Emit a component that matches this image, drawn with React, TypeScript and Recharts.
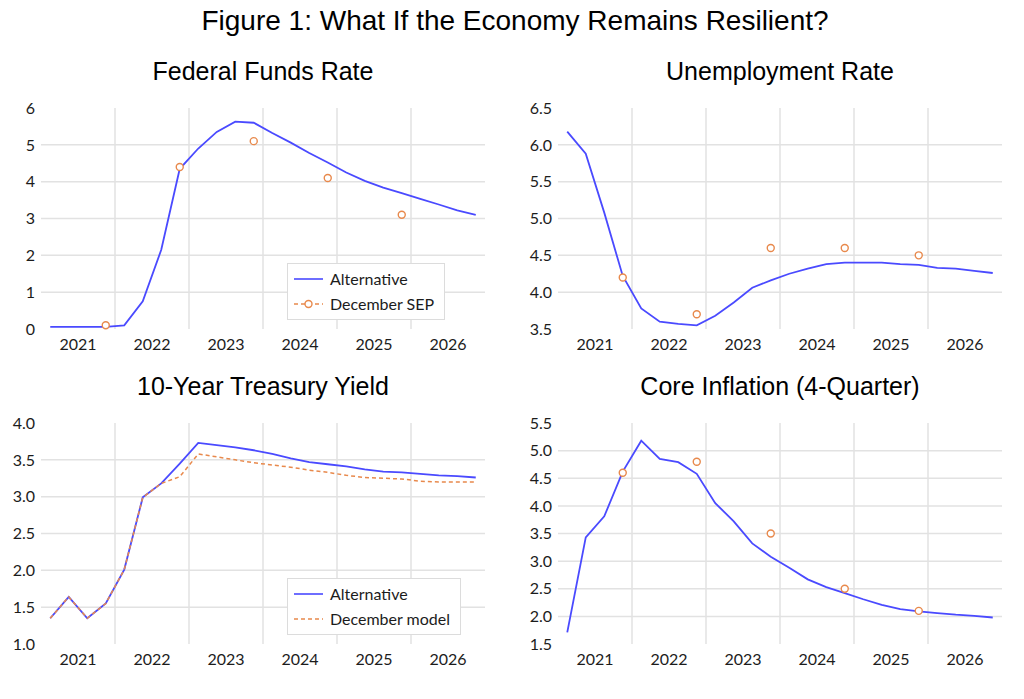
import React from 'react'
import { LineChart, Line, XAxis, YAxis, CartesianGrid, Legend } from 'recharts'

// quarterly data, 2021Q1 .. 2026Q4
const years = ['2021', '2022', '2023', '2024', '2025', '2026']
const quarters = years.flatMap((y) => ['Q1', 'Q2', 'Q3', 'Q4'].map((q) => `${y}${q}`))

const ffrAlternative = [0.06, 0.06, 0.06, 0.06, 0.1, 0.75, 2.15, 4.35, 4.9, 5.35, 5.63, 5.6, 5.32, 5.06, 4.78, 4.52, 4.25, 4.02, 3.84, 3.69, 3.53, 3.38, 3.22, 3.1]
const ffrSep = [0.1, 4.4, 5.1, 4.1, 3.1]

const urAlternative = [6.18, 5.88, 5.08, 4.22, 3.78, 3.6, 3.57, 3.55, 3.68, 3.86, 4.06, 4.16, 4.25, 4.32, 4.38, 4.4, 4.4, 4.4, 4.38, 4.37, 4.33, 4.32, 4.29, 4.26]
const urSep = [4.2, 3.7, 4.6, 4.6, 4.5]

const tyAlternative = [1.35, 1.64, 1.35, 1.55, 2.01, 2.99, 3.18, 3.45, 3.73, 3.7, 3.67, 3.63, 3.58, 3.52, 3.47, 3.44, 3.41, 3.37, 3.34, 3.33, 3.31, 3.29, 3.28, 3.26]
const tyDecModel = [1.35, 1.64, 1.35, 1.55, 2.01, 2.99, 3.18, 3.27, 3.58, 3.54, 3.5, 3.46, 3.43, 3.4, 3.36, 3.33, 3.29, 3.26, 3.25, 3.24, 3.21, 3.2, 3.2, 3.2]

const ciAlternative = [1.71, 3.43, 3.81, 4.62, 5.18, 4.85, 4.79, 4.58, 4.05, 3.72, 3.32, 3.08, 2.88, 2.67, 2.53, 2.42, 2.31, 2.21, 2.13, 2.09, 2.06, 2.03, 2.01, 1.98]
const ciSep = [4.6, 4.8, 3.5, 2.5, 2.1]

const ffrTicks = [0, 1, 2, 3, 4, 5, 6]
const urTicks = [3.5, 4.0, 4.5, 5.0, 5.5, 6.0, 6.5]
const tyTicks = [1.0, 1.5, 2.0, 2.5, 3.0, 3.5, 4.0]
const ciTicks = [1.5, 2.0, 2.5, 3.0, 3.5, 4.0, 4.5, 5.0, 5.5]

const BLUE = '#4a4aff'
const ORANGE = '#e8894c'
const GRID = '#e2e2e2'
const TEXT = '#1c1c1c'
const TICK_FONT = 'Lato, "Open Sans", sans-serif'
const TITLE_FONT = '"Liberation Sans", Arial, sans-serif'

// SEP values are year-end (Q4) projections
const buildData = (alt: number[], second: number[], secondIsSep: boolean) =>
  quarters.map((q, i) => ({
    q,
    x: i + 0.5,
    alt: alt[i],
    second: secondIsSep ? (i % 4 === 3 ? second[(i - 3) / 4] ?? null : null) : second[i],
  }))

const yearTicks = years.map((_, k) => 4 * k + 2)
const yearBounds = years.slice(1).map((_, k) => 4 * (k + 1))

type LegendItem = { label: string; dashed: boolean; dot: boolean; color: string }

const LegendBox = ({ items }: { items: LegendItem[] }) => (
  <div
    style={{
      border: '1.5px solid #dcdcdc',
      background: '#fff',
      padding: '2px 10px 3px 5px',
      fontFamily: TICK_FONT,
      fontSize: 16,
      color: TEXT,
      lineHeight: '25px',
    }}
  >
    {items.map((it) => (
      <div key={it.label} style={{ display: 'flex', alignItems: 'center' }}>
        <svg width={31} height={12}>
          <line x1={1} y1={6} x2={30} y2={6} stroke={it.color} strokeWidth={1.6} strokeDasharray={it.dashed ? '4 3' : undefined} />
          {it.dot && <circle cx={15.5} cy={6} r={3.5} fill='#fff' stroke={it.color} strokeWidth={1.4} />}
        </svg>
        <span style={{ marginLeft: 6, whiteSpace: 'nowrap' }}>{it.label}</span>
      </div>
    ))}
  </div>
)

type PanelProps = {
  title: string
  left: number
  top: number
  alt: number[]
  second: number[]
  secondIsSep: boolean
  secondName: string
  ticks: number[]
  decimals: number
  legend?: { left: number; top: number }
}

const Panel = ({ title, left, top, alt, second, secondIsSep, secondName, ticks, decimals, legend }: PanelProps) => {
  const data = buildData(alt, second, secondIsSep)
  const legendItems: LegendItem[] = [
    { label: 'Alternative', dashed: false, dot: false, color: BLUE },
    { label: secondName, dashed: true, dot: secondIsSep, color: ORANGE },
  ]
  return (
    <div style={{ position: 'absolute', left, top, width: 500 }}>
      <div
        style={{
          position: 'absolute',
          left: 41,
          width: 444,
          top: -38,
          textAlign: 'center',
          fontFamily: TITLE_FONT,
          fontSize: 25,
          color: '#000',
        }}
      >
        {title}
      </div>
      <LineChart width={500} height={264} data={data} margin={{ top: 13, right: 15, bottom: 0, left: 0 }}>
        <CartesianGrid stroke={GRID} strokeWidth={1.5} verticalValues={yearBounds} horizontalValues={ticks.slice(1, -1)} />
        <XAxis
          type='number'
          dataKey='x'
          domain={[0, 24]}
          ticks={yearTicks}
          interval={0}
          tickFormatter={(v: number) => years[(v - 2) / 4]}
          axisLine={false}
          tickLine={false}
          tickSize={0}
          tickMargin={10}
          height={30}
          tick={{ fontFamily: TICK_FONT, fontSize: 16, fill: TEXT }}
        />
        <YAxis
          type='number'
          domain={[ticks[0], ticks[ticks.length - 1]]}
          ticks={ticks}
          interval={0}
          tickFormatter={(v: number) => v.toFixed(decimals)}
          axisLine={false}
          tickLine={false}
          tickSize={0}
          tickMargin={6}
          width={41}
          tick={{ fontFamily: TICK_FONT, fontSize: 16, fill: TEXT }}
        />
        <Line dataKey='alt' name='Alternative' stroke={BLUE} strokeWidth={1.8} dot={false} isAnimationActive={false} />
        {secondIsSep ? (
          <Line
            dataKey='second'
            name={secondName}
            stroke='none'
            connectNulls={false}
            dot={{ r: 3.5, fill: '#fff', stroke: ORANGE, strokeWidth: 1.4 }}
            isAnimationActive={false}
          />
        ) : (
          <Line dataKey='second' name={secondName} stroke={ORANGE} strokeWidth={1.5} strokeDasharray='4 3' dot={false} isAnimationActive={false} />
        )}
        {legend && (
          <Legend
            layout='vertical'
            align='center'
            verticalAlign='middle'
            wrapperStyle={{ left: legend.left, top: legend.top, width: 'auto' }}
            content={() => <LegendBox items={legendItems} />}
          />
        )}
      </LineChart>
    </div>
  )
}

export default function App() {
  return (
    <div style={{ position: 'absolute', left: 0, top: 0, width: 1024, height: 699, background: '#fff' }}>
      <div
        style={{
          position: 'absolute',
          top: 5,
          left: 0,
          width: 1030,
          textAlign: 'center',
          fontFamily: TITLE_FONT,
          fontSize: 28,
          color: '#000',
        }}
      >
        Figure 1: What If the Economy Remains Resilient?
      </div>
      <Panel
        title='Federal Funds Rate'
        left={0}
        top={95}
        alt={ffrAlternative}
        second={ffrSep}
        secondIsSep
        secondName='December SEP'
        ticks={ffrTicks}
        decimals={0}
        legend={{ left: 287, top: 168 }}
      />
      <Panel
        title='Unemployment Rate'
        left={517}
        top={95}
        alt={urAlternative}
        second={urSep}
        secondIsSep
        secondName='December SEP'
        ticks={urTicks}
        decimals={1}
      />
      <Panel
        title='10-Year Treasury Yield'
        left={0}
        top={410}
        alt={tyAlternative}
        second={tyDecModel}
        secondIsSep={false}
        secondName='December model'
        ticks={tyTicks}
        decimals={1}
        legend={{ left: 287, top: 168 }}
      />
      <Panel
        title='Core Inflation (4-Quarter)'
        left={517}
        top={410}
        alt={ciAlternative}
        second={ciSep}
        secondIsSep
        secondName='December SEP'
        ticks={ciTicks}
        decimals={1}
      />
    </div>
  )
}
